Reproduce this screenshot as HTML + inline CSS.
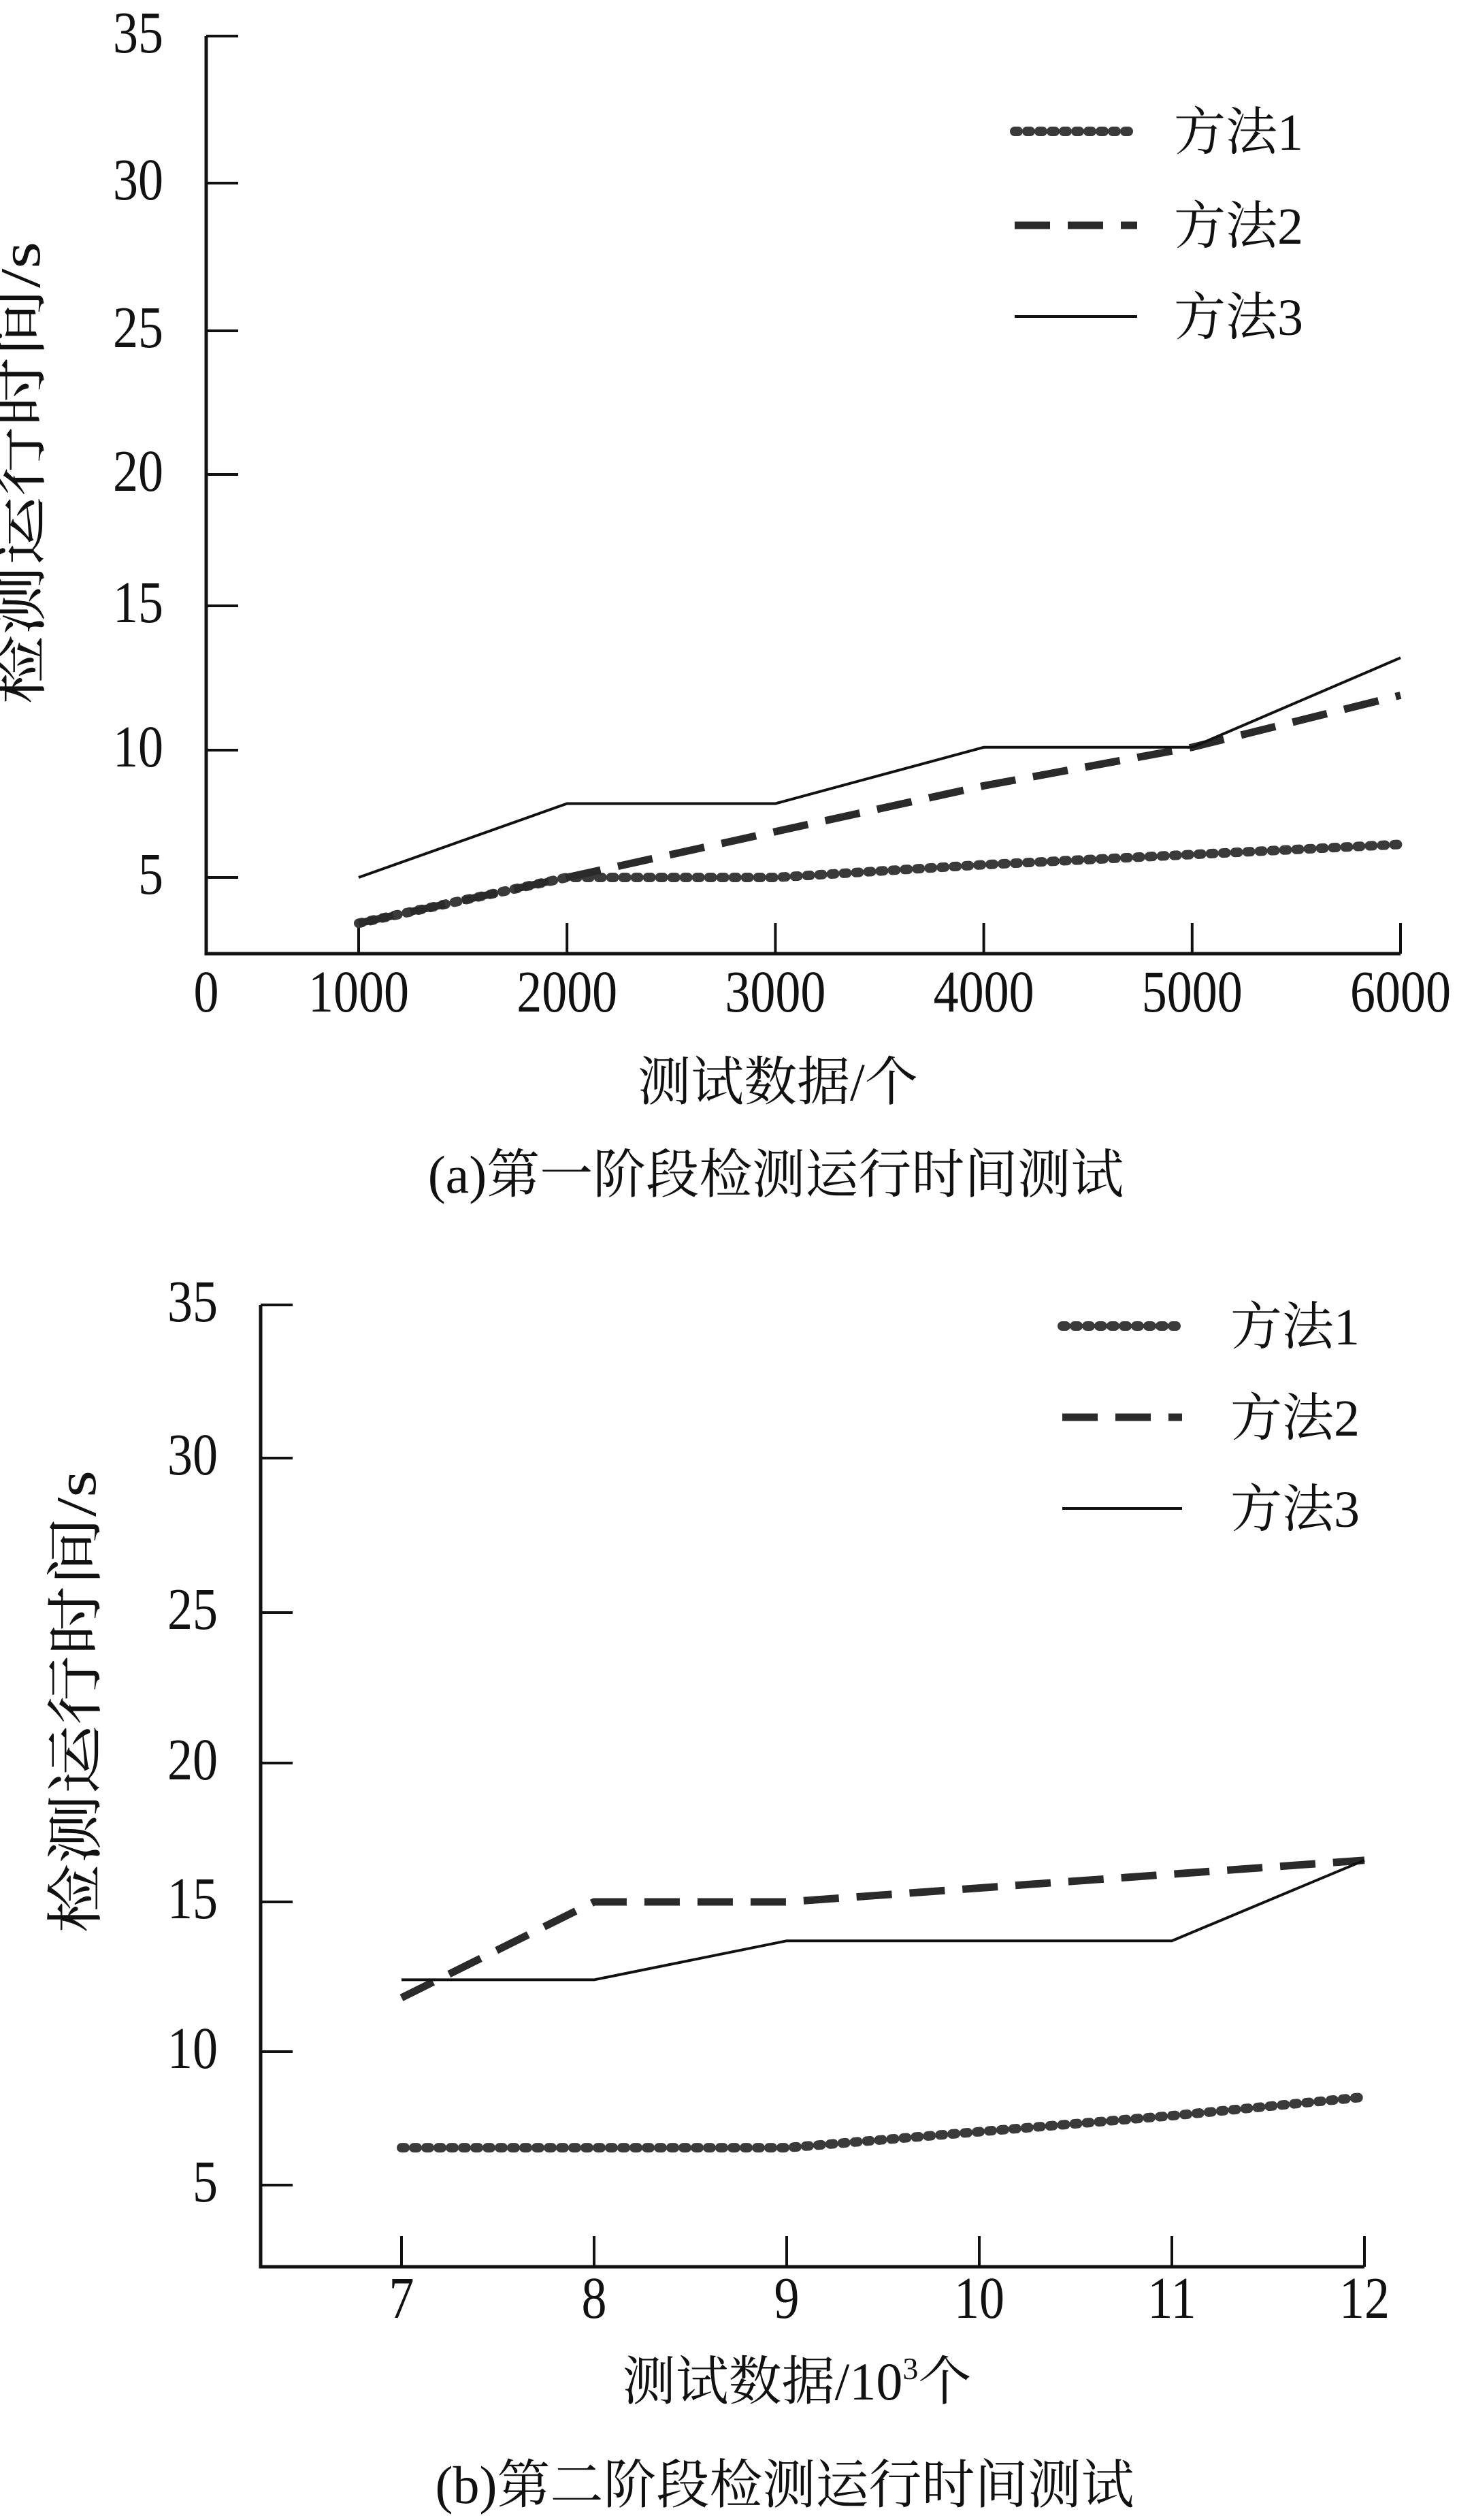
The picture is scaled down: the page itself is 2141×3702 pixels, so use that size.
<!DOCTYPE html>
<html><head><meta charset="utf-8"><style>
html,body{margin:0;padding:0;background:#fff;}
svg{display:block;}
text{font-family:"Liberation Serif","Noto Serif CJK SC","Noto Sans CJK SC",serif;fill:#111;}
</style></head><body>
<svg id="root" width="2141" height="3702" viewBox="0 0 2141 3702"></svg>
<script>
// ---- chart (a) data ----
const catsA = [1000, 2000, 3000, 4000, 5000, 6000];
const xLabelsA = ["1000", "2000", "3000", "4000", "5000", "6000"];
const m1A = [3.2, 5.0, 5.0, 5.5, 5.9, 6.3];
const m2A = [3.2, 5.0, 6.8, 8.6, 10.1, 11.9];
const m3A = [5.0, 7.9, 7.9, 10.1, 10.1, 13.2];
// ---- chart (b) data ----
const catsB = [7, 8, 9, 10, 11, 12];
const xLabelsB = ["7", "8", "9", "10", "11", "12"];
const m1B = [6.4, 6.4, 6.4, 7.0, 7.6, 8.3];
const m2B = [11.8, 15.0, 15.0, 15.5, 16.0, 16.5];
const m3B = [12.4, 12.4, 13.7, 13.7, 13.7, 16.5];
// shared
const yTicks = [5, 10, 15, 20, 25, 30, 35];
const seriesNames = ["方法1", "方法2", "方法3"];

const NS = "http://www.w3.org/2000/svg";
const root = document.getElementById('root');
function mk(tag, attrs, parent, txt) {
  const e = document.createElementNS(NS, tag);
  for (const k in attrs) e.setAttribute(k, attrs[k]);
  if (txt !== undefined) e.textContent = txt;
  (parent || root).appendChild(e);
  return e;
}
const styles = [
  {stroke:"#3a3a3a", "stroke-width":14, "stroke-dasharray":"5 13", "stroke-linecap":"round", fill:"none"},
  {stroke:"#2a2a2a", "stroke-width":11, "stroke-dasharray":"52 26", fill:"none"},
  {stroke:"#111", "stroke-width":4, fill:"none"}
];

function drawChart(cfg) {
  const g = mk('g', {});
  
  
  function ys(v) {
    const t = yTicks, p = cfg.tickPx;
    if (v <= t[0]) return p[0] + (t[0] - v) * (p[0] - p[1]) / (t[1] - t[0]);
    for (let i = 0; i < t.length - 1; i++) {
      if (v <= t[i + 1]) return p[i] + (v - t[i]) * (p[i + 1] - p[i]) / (t[i + 1] - t[i]);
    }
    return p[p.length - 1];
  }
  function xs(i) { return cfg.x0 + (cfg.x1 - cfg.x0) * (cfg.cats[i] - cfg.cats[0]) / (cfg.cats[cfg.cats.length - 1] - cfg.cats[0]); }
  const ax = mk('path', {d:`M${cfg.ax},${ys(35)} L${cfg.ax},${cfg.base} L${cfg.x1},${cfg.base}`, stroke:"#111", "stroke-width":5, fill:"none"}, g);
  
  
  yTicks.forEach(v => {
    const y = ys(v);
    const tk = mk('line', {x1:cfg.ax, y1:y, x2:cfg.ax + 47, y2:y, stroke:"#111", "stroke-width":4}, g);
    
    
    const tl = mk('text', {x:cfg.ax - 63, y:0, "text-anchor":"end", "font-size":74, transform:`translate(0 ${y + 24}) scale(1 1.18)`}, g, String(v));
    
    
  });
  cfg.cats.forEach((c, i) => {
    const x = xs(i);
    const tk = mk('line', {x1:x, y1:cfg.base, x2:x, y2:cfg.base - 45, stroke:"#111", "stroke-width":4}, g);
    
    
    const tl = mk('text', {x:x, y:0, "text-anchor":"middle", "font-size":74, transform:`translate(0 ${cfg.labY + 24}) scale(1 1.18)`}, g, cfg.labels[i]);
    
    
  });
  if (cfg.zero) {
    const z = mk('text', {x:cfg.ax, y:0, "text-anchor":"middle", "font-size":74, transform:`translate(0 ${cfg.labY + 24}) scale(1 1.18)`}, g, "0");
    
    
  }
  cfg.series.forEach((vals, s) => {
    const d = vals.map((v, i) => (i ? 'L' : 'M') + xs(i).toFixed(1) + ',' + ys(v).toFixed(1)).join(' ');
    const p = mk('path', Object.assign({d:d}, styles[s]), g);
    
    
  });
  cfg.legRows.forEach((y, s) => {
    const l = mk('line', Object.assign({x1:cfg.legX0, y1:y, x2:cfg.legX1, y2:y}, styles[s]), g);
    
    
    const t = mk('text', {x:cfg.legTx, y:y + 27, "font-size":76}, g, seriesNames[s]);
    
    
  });
  const yt = mk('text', {x:0, y:0, "text-anchor":"middle", "font-size":84, textLength:680, lengthAdjust:"spacingAndGlyphs", transform:`translate(${cfg.ytX} ${cfg.ytY}) rotate(-90)`}, g, "检测运行时间/s");
  
  
  const xt = mk('text', {x:cfg.xtX, y:cfg.xtY + 27, "text-anchor":"middle", "font-size":78}, g);
  
  
  if (cfg.sup) {
    xt.textContent = "测试数据/10";
    mk('tspan', {"font-size":46, dy:-30}, xt, "3");
    mk('tspan', {dy:30}, xt, "个");
  } else xt.textContent = "测试数据/个";
  const cap = mk('text', {x:cfg.capX, y:cfg.capY + 27, "text-anchor":"middle", "font-size":78}, g, cfg.caption);
  
  
}

drawChart({name:'chart-a', cats:catsA, labels:xLabelsA, series:[m1A, m2A, m3A],
  tickPx:[1289, 1102, 890, 697, 486, 269, 53], ax:303, base:1401, x0:527, x1:2058, labY:1462, zero:true,
  legRows:[193, 331, 465], legX0:1491, legX1:1671, legTx:1725,
  ytX:58, ytY:695, xtX:1143, xtY:1589, capX:1140, capY:1725, caption:"(a)第一阶段检测运行时间测试"});

drawChart({name:'chart-b', cats:catsB, labels:xLabelsB, series:[m1B, m2B, m3B],
  tickPx:[3210, 3014, 2794, 2590, 2369, 2142, 1917], ax:383, base:3330, x0:590, x1:2005, labY:3381, zero:false,
  legRows:[1948, 2082, 2216], legX0:1561, legX1:1737, legTx:1808,
  ytX:140, ytY:2500, xtX:1171, xtY:3498, capX:1153, capY:3650, caption:"(b)第二阶段检测运行时间测试", sup:true});
</script>
</body></html>
